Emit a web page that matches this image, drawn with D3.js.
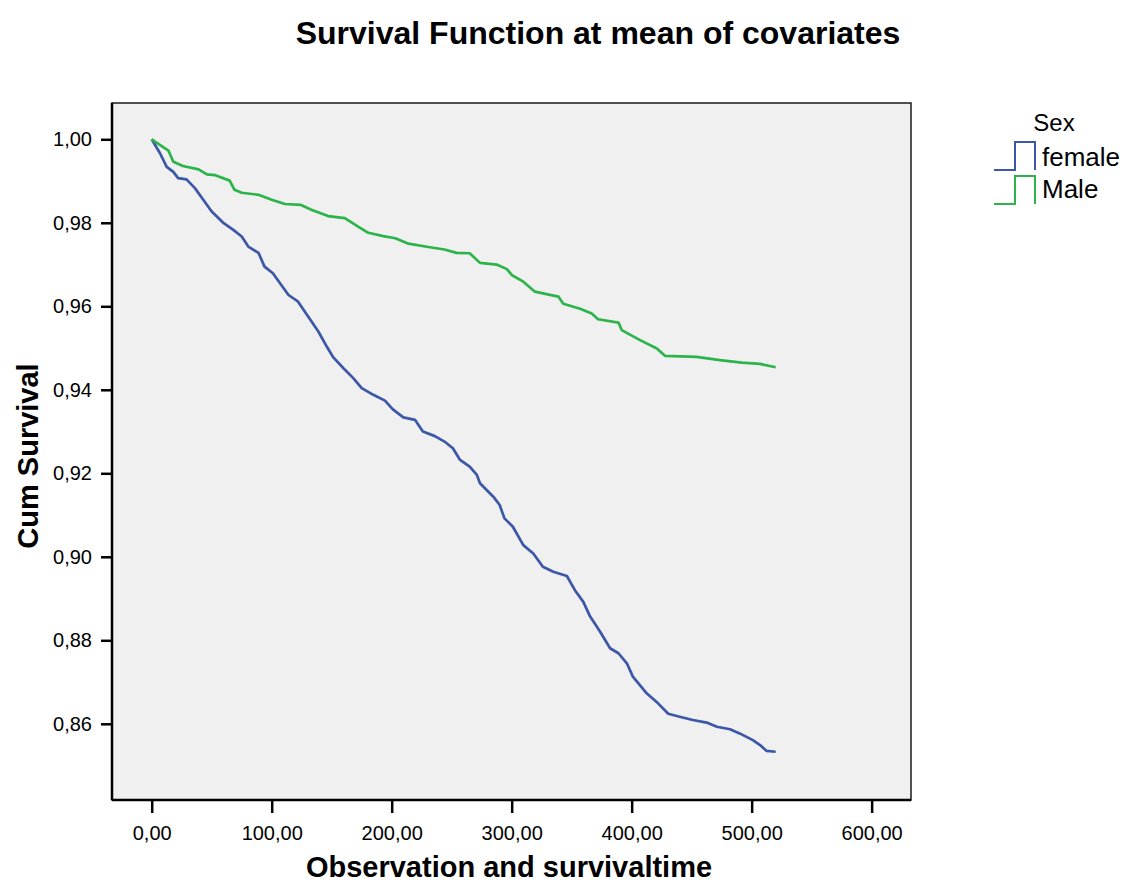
<!DOCTYPE html>
<html>
<head>
<meta charset="utf-8">
<script src="https://cdn.jsdelivr.net/npm/d3@7"></script>
<style>
  body { margin: 0; background: #fff; }
  text { font-family: "Liberation Sans", Arial, sans-serif; }
</style>
</head>
<body>
<svg id="chart" width="1132" height="892"></svg>
<script>
// survival curves: time, cum survival
const femaleTime = [0, 7, 12.5, 18, 22, 29, 36, 44, 50, 60, 68, 75, 80.5, 89, 94, 101, 108, 114, 122, 130.5,
  139, 146, 151, 160, 168, 175, 184.7, 194.4, 201, 209.7, 219.4, 226, 236, 244, 251, 257, 265, 271, 273.6,
  284.7, 290, 294, 301, 309.7, 318, 326, 334.7, 346, 352.7, 359.7, 365, 373.6, 382, 389, 396, 401, 412.5,
  422, 430.5, 440, 451, 462.5, 471, 482, 490, 501, 507, 512.5, 520];
const femaleSurv = [1.000, 0.9966, 0.9934, 0.9922, 0.9907, 0.9904, 0.9883, 0.9851, 0.9827, 0.9799, 0.9783,
  0.9767, 0.9743, 0.9728, 0.9695, 0.9679, 0.9651, 0.9627, 0.9611, 0.9575, 0.9539, 0.9503, 0.9479, 0.9451,
  0.9428, 0.9404, 0.9388, 0.9374, 0.9353, 0.9334, 0.9328, 0.9300, 0.9289, 0.9276, 0.9260, 0.9232, 0.9216,
  0.9196, 0.9176, 0.9144, 0.9124, 0.9092, 0.9072, 0.9028, 0.9008, 0.8976, 0.8964, 0.8954, 0.8920, 0.8892,
  0.8859, 0.8821, 0.8781, 0.8769, 0.8745, 0.8713, 0.8673, 0.8649, 0.8624, 0.8617, 0.8609, 0.8603, 0.8593,
  0.8587, 0.8577, 0.8561, 0.8549, 0.8535, 0.8533];

const maleTime = [0, 13.9, 18, 26, 39, 46, 53, 65, 69, 75, 89, 100, 111, 124, 133, 147, 161, 172, 180.5,
  193, 203, 214, 230.5, 244, 254, 265, 273.6, 287.5, 296, 300, 309.7, 319.4, 329, 339, 343, 357, 366.7,
  372, 389, 391.7, 407, 421, 428, 454, 473.6, 491.7, 507, 520];
const maleSurv = [1.000, 0.9973, 0.9946, 0.9936, 0.9928, 0.9916, 0.9914, 0.9901, 0.9879, 0.9872, 0.9867,
  0.9855, 0.9845, 0.9843, 0.9831, 0.9816, 0.9811, 0.9791, 0.9776, 0.9768, 0.9763, 0.9750, 0.9742, 0.9736,
  0.9728, 0.9727, 0.9704, 0.9700, 0.9689, 0.9675, 0.9659, 0.9635, 0.9629, 0.9623, 0.9606, 0.9594, 0.9583,
  0.9569, 0.9561, 0.9543, 0.9519, 0.9499, 0.9481, 0.9479, 0.9471, 0.9465, 0.9462, 0.9454];

const seriesNames = ["female", "Male"];
const seriesColors = ["#3c56a8", "#2cb44a"];
const xTicks = [0, 100, 200, 300, 400, 500, 600];
const yTicks = [0.86, 0.88, 0.90, 0.92, 0.94, 0.96, 0.98, 1.00];

const svg = d3.select("#chart");
const plot = { left: 112, top: 103, right: 911, bottom: 800 };

const x = d3.scaleLinear().domain([-33.1, 632.8]).range([plot.left, plot.right]);
const y = d3.scaleLinear().domain([0.84175, 1.00869]).range([plot.bottom, plot.top]);

const comma = v => d3.format(".2f")(v).replace(".", ",");

// plot background
svg.append("rect")
  .attr("x", plot.left).attr("y", plot.top)
  .attr("width", plot.right - plot.left).attr("height", plot.bottom - plot.top)
  .attr("fill", "#f0f0f0")
  .attr("stroke", "#1a1a1a").attr("stroke-width", 1.5);

// axes
const xAxis = svg.append("g")
  .attr("transform", `translate(0,${plot.bottom})`)
  .call(d3.axisBottom(x).tickValues(xTicks).tickFormat(comma).tickSize(13).tickPadding(13));
const yAxis = svg.append("g")
  .attr("transform", `translate(${plot.left},0)`)
  .call(d3.axisLeft(y).tickValues(yTicks).tickFormat(comma).tickSize(11).tickPadding(9));

[xAxis, yAxis].forEach(g => {
  g.select(".domain").attr("stroke", "#000").attr("stroke-width", 2.5);
  g.selectAll(".tick line").attr("stroke", "#000").attr("stroke-width", 2.5);
  g.selectAll(".tick text").attr("fill", "#000")
    .style("font-family", "'Liberation Sans', Arial, sans-serif").style("font-size", "20px");
});
xAxis.select(".domain").attr("d", `M${plot.left},0H${plot.right}`);
yAxis.select(".domain").attr("d", `M0,${plot.top}V${plot.bottom}`);

// curves (fine staircase in the original, drawn through the read-off corners)
const line = d3.line()
  .x(d => x(d[0])).y(d => y(d[1]));

const series = [
  d3.zip(femaleTime, femaleSurv),
  d3.zip(maleTime, maleSurv)
];
series.forEach((pts, i) => {
  svg.append("path")
    .datum(pts)
    .attr("fill", "none")
    .attr("stroke", seriesColors[i])
    .attr("stroke-width", 2.7)
    .attr("stroke-linejoin", "round")
    .attr("d", line);
});

// titles
svg.append("text")
  .attr("x", 598).attr("y", 44)
  .attr("text-anchor", "middle")
  .style("font-size", "32px").style("font-weight", "bold")
  .text("Survival Function at mean of covariates");

svg.append("text")
  .attr("x", 509).attr("y", 877)
  .attr("text-anchor", "middle")
  .style("font-size", "29px").style("font-weight", "bold")
  .text("Observation and survivaltime");

svg.append("text")
  .attr("transform", "translate(38,456) rotate(-90)")
  .attr("text-anchor", "middle")
  .style("font-size", "29px").style("font-weight", "bold")
  .text("Cum Survival");

// legend
const legend = svg.append("g").attr("transform", "translate(994,0)");
legend.append("text")
  .attr("x", 60).attr("y", 131)
  .attr("text-anchor", "middle")
  .style("font-size", "24px")
  .text("Sex");

seriesNames.forEach((name, i) => {
  const base = 170 + i * 34;
  legend.append("path")
    .attr("d", `M0,${base}H21V${base - 28}H41V${base}`)
    .attr("fill", "none")
    .attr("stroke", seriesColors[i])
    .attr("stroke-width", 2);
  legend.append("text")
    .attr("x", 48).attr("y", 166 + i * 32)
    .style("font-size", "26px")
    .text(name);
});
</script>
</body>
</html>
